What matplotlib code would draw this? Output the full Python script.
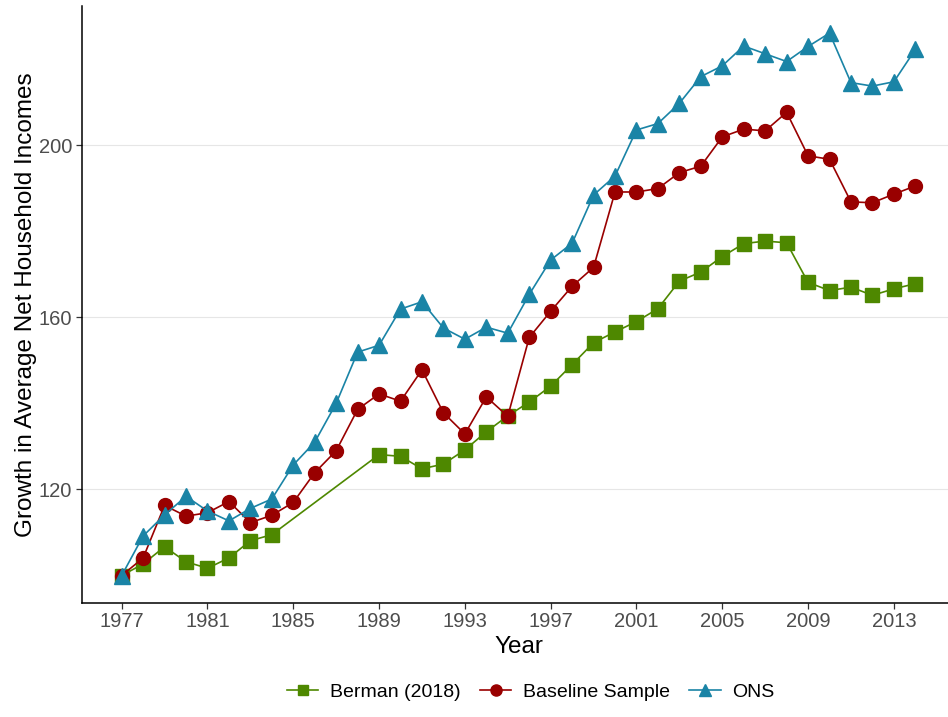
#!/usr/bin/env python
# -*- coding: utf-8 -*-

import numpy as np
import matplotlib.pyplot as plt

plt.rcParams['font.family'] = ['Liberation Sans', 'DejaVu Sans']

#------------------------------------------------------
years = list(range(1977, 2015))

# Berman (2018) has no values for 1985-1988
berman_years = [1977, 1978, 1979, 1980, 1981, 1982, 1983, 1984,
                1989, 1990, 1991, 1992, 1993, 1994, 1995, 1996, 1997, 1998,
                1999, 2000, 2001, 2002, 2003, 2004, 2005, 2006, 2007, 2008,
                2009, 2010, 2011, 2012, 2013, 2014]
berman = [100.0, 102.7, 106.7, 103.2, 101.7, 104.1, 108.1, 109.5,
          128.1, 127.7, 124.8, 125.9, 129.2, 133.4, 137.1, 140.3, 144.0, 149.0,
          154.1, 156.6, 159.0, 162.0, 168.4, 170.5, 174.1, 177.1, 177.7, 177.3,
          168.1, 166.2, 167.0, 165.1, 166.6, 167.8]

baseline = [100.0, 104.1, 116.3, 113.8, 114.6, 117.2, 112.3, 114.0, 117.0, 123.9,
            129.0, 138.6, 142.2, 140.5, 147.8, 137.8, 132.9, 141.5, 137.0, 155.3,
            161.4, 167.2, 171.6, 189.1, 189.1, 189.9, 193.6, 195.1, 201.9, 203.7,
            203.3, 207.6, 197.5, 196.7, 186.8, 186.6, 188.6, 190.5]

ons = [100.0, 109.2, 114.1, 118.4, 115.0, 112.7, 115.6, 117.8, 125.7, 131.0,
       140.0, 151.9, 153.5, 161.9, 163.6, 157.5, 154.9, 157.7, 156.3, 165.3,
       173.3, 177.2, 188.4, 192.8, 203.5, 205.0, 209.7, 215.9, 218.4, 223.0,
       221.2, 219.4, 222.9, 226.0, 214.5, 213.7, 214.7, 222.2]

xticks = list(range(1977, 2014, 4))
yticks = [120, 160, 200]

green = '#4e8800'
red = '#990000'
blue = '#1a84a6'
grey_text = '#4d4d4d'


#------------------------------------------------------
fig = plt.figure(figsize=(9.48, 7.17), dpi=100)
ax = fig.add_axes([82 / 948, (717 - 602.7) / 717, 873 / 948, 596.7 / 717])

ax.plot(berman_years, berman, color=green, marker='s', markersize=9.5,
        lw=1.2, label='Berman (2018)')
ax.plot(years, baseline, color=red, marker='o', markersize=10,
        lw=1.2, label='Baseline Sample')
ax.plot(years, ons, color=blue, marker='^', markersize=11,
        lw=1.2, label='ONS')

ax.set_xlim(1975.15, 2015.85)
ax.set_ylim(93.7, 232.3)
ax.set_xticks(xticks)
ax.set_yticks(yticks)
ax.grid(axis='y', color='#e6e6e6', lw=0.8)
ax.set_axisbelow(True)

for s in ['top', 'right']:
    ax.spines[s].set_visible(False)
for s in ['left', 'bottom']:
    ax.spines[s].set_linewidth(1.1)
    ax.spines[s].set_color('black')

ax.tick_params(axis='both', length=4, width=0.9, color='#333333',
               labelsize=14.5, labelcolor=grey_text, pad=3)

ax.set_xlabel('Year', fontsize=17.5, labelpad=3)
ax.set_ylabel('Growth in Average Net Household Incomes', fontsize=17.5, labelpad=1.5)

fig.legend(loc='center', bbox_to_anchor=(0.56, 0.035), ncol=3, frameon=False,
           fontsize=14, handlelength=1.6, handletextpad=0.6, columnspacing=1.0,
           markerscale=0.8)

plt.savefig('out.png', dpi=100)
